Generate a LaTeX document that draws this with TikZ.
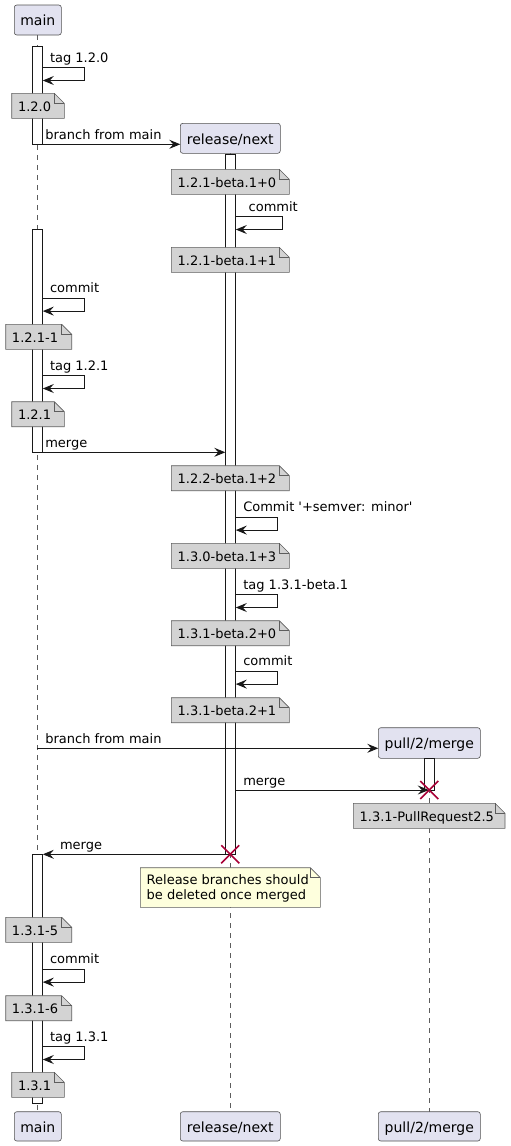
\documentclass[tikz,border=0pt]{standalone}
\usepackage{fontspec}
\setmainfont{DejaVu Sans}
\usetikzlibrary{arrows.meta}
\definecolor{partfill}{HTML}{E2E2F0}
\definecolor{notegray}{HTML}{D3D3D3}
\definecolor{noteyel}{HTML}{FEFFDD}
\definecolor{linec}{HTML}{181818}
\definecolor{xred}{HTML}{A80036}
\tikzset{
 every node/.style={inner sep=0pt, outer sep=0pt, font=\fontsize{13pt}{15pt}\selectfont},
 parttext/.style={font=\fontsize{14pt}{16pt}\selectfont, anchor=base},
 msgtext/.style={anchor=base west},
 partbox/.style={draw=linec!75, line width=0.6pt, fill=partfill, rounded corners=2.5pt},
 lifeline/.style={draw=linec!70, line width=0.7pt, dash pattern=on 5pt off 5pt},
 actbar/.style={draw=linec, line width=0.9pt, fill=white},
 msg/.style={draw=linec, line width=1pt, -{Stealth[length=11pt,width=9pt,inset=4pt]}},
 notebox/.style={draw=linec!70, line width=0.6pt},
 xmark/.style={draw=xred, line width=1.6pt},
}
% note: name, x1, y1, x2, y2, fill, text
\newcommand{\drawnote}[7]{%
 \filldraw[notebox, fill=#6] (#2,#3) -- ({#4-10},#3) -- (#4,{#3+10}) -- (#4,#5) -- (#2,#5) -- cycle;
 \draw[notebox] ({#4-10},#3) -- ({#4-10},{#3+10}) -- (#4,{#3+10});
 \node[anchor=base west] (#1) at ({#2+6.3},{#3+17.7}) {#7};
}
% self message: name, xstart, xright, ytop, textx, text
\newcommand{\selfmsg}[6]{%
 \coordinate (#1a) at (#2,#4);
 \coordinate (#1b) at (#3,#4);
 \coordinate (#1c) at (#3,{#4+12.8});
 \coordinate (#1d) at ({#2+0.5},{#4+12.8});
 \draw[msg] (#1a) -- (#1b) -- (#1c) -- (#1d);
 \node[msgtext] (#1t) at (#5,{#4-5.7}) {#6};
}
\newcommand{\xcross}[3]{%
 \coordinate (#1) at (#2,#3);
 \draw[xmark] ([shift={(-9,-9)}]#1) -- ([shift={(9,9)}]#1);
 \draw[xmark] ([shift={(-9,9)}]#1) -- ([shift={(9,-9)}]#1);
}
\begin{document}
\begin{tikzpicture}[x=1pt,y=-1pt]
\useasboundingbox (0,0) rectangle (511,1146);

% participants (top and bottom)
\draw[partbox] (14.3,5) rectangle (61.3,35);
\node[parttext] (pmain) at (37.8,25.7) {main};
\draw[partbox] (180.3,123.3) rectangle (280.3,153.3);
\node[parttext] (prel) at (230.3,144) {release/next};
\draw[partbox] (378.3,727.7) rectangle (480.3,758.3);
\node[parttext] (ppull) at (429.3,748.6) {pull/2/merge};

\draw[partbox] (14.3,1111.7) rectangle (61.3,1141);
\node[parttext] (bmain) at (37.8,1132.4) {main};
\draw[partbox] (180.3,1111.7) rectangle (280.3,1141);
\node[parttext] (brel) at (230.3,1132.4) {release/next};
\draw[partbox] (378.3,1111.7) rectangle (480.3,1141);
\node[parttext] (bpull) at (429.3,1132.4) {pull/2/merge};

% lifelines
\draw[lifeline] (37.3,35) -- (37.3,1111.7);
\draw[lifeline] (230.3,153.3) -- (230.3,1111.7);
\draw[lifeline] (429.3,758.3) -- (429.3,1111.7);

% activation bars
\draw[actbar] (32.3,46.7) rectangle (42.3,144.3);
\draw[actbar] (32.3,229.3) rectangle (42.3,452.3);
\draw[actbar] (32.3,854.3) rectangle (42.3,1103.3);
\draw[actbar] (225.3,154.3) rectangle (235.3,854.3);
\draw[actbar] (424.3,758.3) rectangle (434.3,790);

% messages
\selfmsg{m1}{42.3}{84.3}{67.7}{50}{tag 1.2.0}
\drawnote{n1}{11.7}{93.3}{64.3}{118.3}{notegray}{1.2.0}

\coordinate (b1s) at (42.3,144.3);
\coordinate (b1e) at (180.3,144.3);
\draw[msg] (b1s) -- (b1e);
\node[msgtext] (b1t) at (45.3,139.5) {branch from main};

\drawnote{n2}{171.3}{169.3}{289.3}{194.3}{notegray}{1.2.1-beta.1+0}
\selfmsg{m2}{235.3}{282.7}{216.7}{248.7}{commit}
\drawnote{n3}{171.3}{247.3}{289.3}{272.3}{notegray}{1.2.1-beta.1+1}

\selfmsg{m3}{42.3}{84.3}{298.3}{50}{commit}
\drawnote{n4}{5.7}{324.3}{71.7}{349.3}{notegray}{1.2.1-1}
\selfmsg{m4}{42.3}{84.3}{375.7}{50}{tag 1.2.1}
\drawnote{n5}{11.7}{401.7}{64.3}{426.7}{notegray}{1.2.1}

\coordinate (g1s) at (42.3,452.3);
\coordinate (g1e) at (225.3,452.3);
\draw[msg] (g1s) -- (g1e);
\node[msgtext] (g1t) at (45.3,447.3) {merge};

\drawnote{n6}{171.3}{465.7}{289.3}{490.7}{notegray}{1.2.2-beta.1+2}
\selfmsg{m5}{235.3}{277.3}{517.3}{243.3}{Commit \textquotesingle+semver: minor\textquotesingle}
\drawnote{n7}{171.3}{543.3}{289.3}{568.3}{notegray}{1.3.0-beta.1+3}
\selfmsg{m6}{235.3}{277.3}{594.7}{243.3}{tag 1.3.1-beta.1}
\drawnote{n8}{171.3}{620.7}{289.3}{645.7}{notegray}{1.3.1-beta.2+0}
\selfmsg{m7}{235.3}{277.3}{671.3}{243.3}{commit}
\drawnote{n9}{171.3}{697.7}{289.3}{722.7}{notegray}{1.3.1-beta.2+1}

\coordinate (b2s) at (37.3,748.3);
\coordinate (b2e) at (378.3,748.3);
\draw[msg] (b2s) -- (b2e);
\node[msgtext] (b2t) at (45.3,743.3) {branch from main};

\coordinate (g2s) at (235.3,790);
\coordinate (g2e) at (428.8,790);
\draw[msg] (g2s) -- (g2e);
\node[msgtext] (g2t) at (243.3,785) {merge};
\xcross{xp}{429.3}{790}

\drawnote{n10}{353.3}{803.3}{505}{828.3}{notegray}{1.3.1-PullRequest2.5}

\coordinate (g3s) at (230.3,854.3);
\coordinate (g3e) at (42.8,854.3);
\draw[msg] (g3s) -- (g3e);
\node[msgtext] (g3t) at (60,849.3) {merge};
\xcross{xr}{230.3}{854.3}

% yellow note
\filldraw[notebox, fill=noteyel] (140.3,867.7) -- (310.3,867.7) -- (320.3,877.7) -- (320.3,907.3) -- (140.3,907.3) -- cycle;
\draw[notebox] (310.3,867.7) -- (310.3,877.7) -- (320.3,877.7);
\node[anchor=base west] (ny1) at (146.7,884.7) {Release branches should};
\node[anchor=base west] (ny2) at (146.7,899.8) {be deleted once merged};

\drawnote{n11}{5.7}{917.3}{71.7}{942.3}{notegray}{1.3.1-5}
\selfmsg{m8}{42.3}{84.3}{969.3}{50}{commit}
\drawnote{n12}{5.7}{995.7}{71.7}{1020.7}{notegray}{1.3.1-6}
\selfmsg{m9}{42.3}{84.3}{1046.7}{50}{tag 1.3.1}
\drawnote{n13}{11.7}{1072.3}{64.3}{1097.3}{notegray}{1.3.1}
\end{tikzpicture}
\end{document}
